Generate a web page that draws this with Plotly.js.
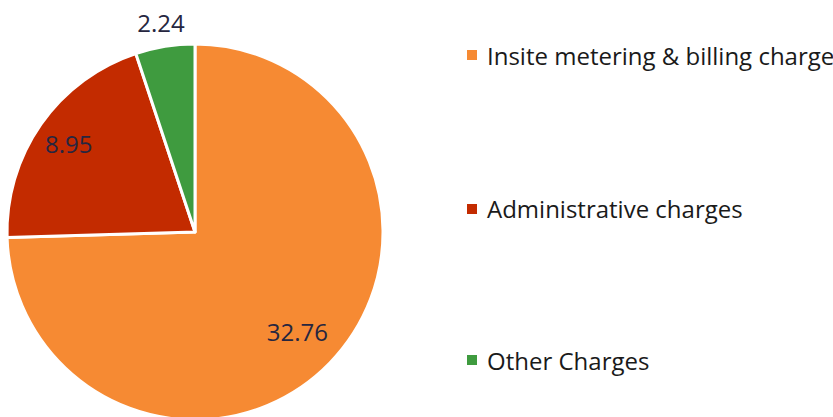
<!DOCTYPE html>
<html>
<head>
<meta charset="utf-8">
<script src="https://cdn.plot.ly/plotly-3.0.1.min.js"></script>
<style>
html,body{margin:0;padding:0;overflow:hidden;background:#fff;width:833px;height:417px;position:relative;}
#chart{position:absolute;left:-60px;top:-20px;width:893px;height:510px;}
</style>
</head>
<body>
<div id="chart"></div>
<script>
var categories = ["Insite metering & billing charge", "Administrative charges", "Other Charges"];
var values = [32.76, 8.95, 2.24];
var colors = ["#F68A33", "#C32B00", "#3F9B3F"];

// page geometry (div is offset by OX, OY so a wide label ring fits)
var OX = 60, OY = 20;
var W = 893, H = 510;
function px(x){ return (x + OX) / W; }
function py(y){ return (H - (y + OY)) / H; }

var legendY = [55, 209, 360];
var shapes = [], annotations = [];
categories.forEach(function(c, i){
  shapes.push({type:"rect", xref:"paper", yref:"paper",
    x0:px(467), x1:px(477), y0:py(legendY[i]+5), y1:py(legendY[i]-5),
    fillcolor:colors[i], line:{width:0}});
  annotations.push({xref:"paper", yref:"paper", x:px(485), y:py(legendY[i]),
    xanchor:"left", yanchor:"middle", showarrow:false, text:c,
    font:{family:"Open Sans", size:24, color:"#1a1a1a"}});
});

var cx = 195, cy = 232, r = 188, R = 246;

var pie = {
  type:"pie",
  labels:categories,
  values:values,
  sort:false,
  direction:"clockwise",
  rotation:0,
  marker:{colors:colors, line:{color:"#ffffff", width:3}},
  textinfo:"none",
  domain:{x:[px(cx - r), px(cx + r)], y:[py(cy + r), py(cy - r)]},
  showlegend:false,
  hoverinfo:"none"
};

// transparent ring carrying the value labels
var labelsRing = {
  type:"pie",
  labels:categories,
  values:values,
  sort:false,
  direction:"clockwise",
  rotation:0,
  hole:0.16,
  marker:{colors:["rgba(0,0,0,0)","rgba(0,0,0,0)","rgba(0,0,0,0)"], line:{width:0}},
  textinfo:"value",
  texttemplate:"%{value}",
  textposition:"inside",
  insidetextorientation:"horizontal",
  textfont:{family:"Open Sans", size:24, color:"#262640"},
  domain:{x:[px(cx - R), px(cx + R)], y:[py(cy + R), py(cy - R)]},
  showlegend:false,
  hoverinfo:"none"
};

var layout = {
  width:W, height:H,
  margin:{l:0, r:0, t:0, b:0},
  paper_bgcolor:"rgba(0,0,0,0)",
  plot_bgcolor:"rgba(0,0,0,0)",
  showlegend:false,
  shapes:shapes,
  annotations:annotations,
  font:{family:"Open Sans"}
};

Plotly.newPlot("chart", [pie, labelsRing], layout, {displayModeBar:false, staticPlot:true});
</script>
</body>
</html>
